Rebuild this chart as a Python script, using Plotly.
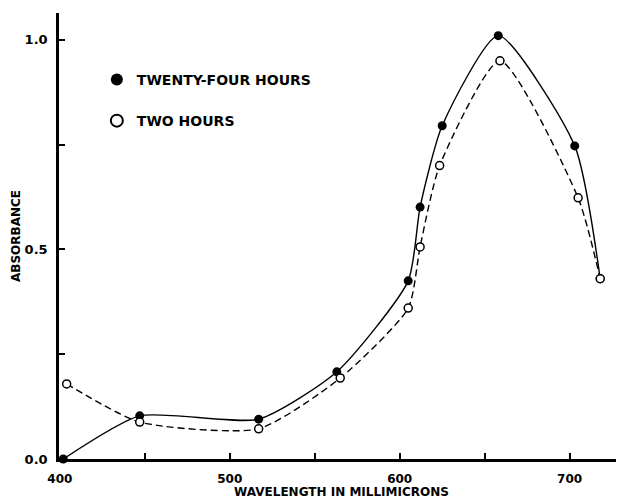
import plotly.graph_objects as go

# Data
wl_24h = [402, 447, 517, 563, 605, 612, 625, 658, 703, 718]
abs_24h = [0.0, 0.103, 0.095, 0.208, 0.425, 0.601, 0.795, 1.01, 0.747, 0.43]

wl_2h = [404, 447, 517, 565, 605, 612, 623.5, 659, 705, 718]
abs_2h = [0.179, 0.088, 0.072, 0.193, 0.36, 0.506, 0.70, 0.95, 0.623, 0.43]

x_tickvals = [400, 500, 600, 700]
x_ticktext = ["400", "500", "600", "700"]
y_tickvals = [0.0, 0.5, 1.0]
y_ticktext = ["0.0", "0.5", "1.0"]

FONT = "DejaVu Sans"

fig = go.Figure()

# Smooth curves
fig.add_trace(go.Scatter(
    x=wl_24h, y=abs_24h, mode="lines",
    line=dict(color="black", width=1.4, shape="spline", smoothing=0.6),
    showlegend=False, hoverinfo="skip"))
fig.add_trace(go.Scatter(
    x=wl_2h, y=abs_2h, mode="lines",
    line=dict(color="black", width=1.4, dash="7px,4px", shape="spline", smoothing=0.6),
    showlegend=False, hoverinfo="skip"))

# Markers (with legend)
fig.add_trace(go.Scatter(
    x=wl_24h, y=abs_24h, mode="markers", name="TWENTY-FOUR HOURS", legendgroup="a",
    marker=dict(symbol="circle", size=9, color="black"), cliponaxis=False))
fig.add_trace(go.Scatter(
    x=wl_2h, y=abs_2h, mode="markers", name="TWO HOURS", legendgroup="b",
    marker=dict(symbol="circle", size=8, color="white", line=dict(color="black", width=1.5)),
    cliponaxis=False))

fig.update_layout(
    width=616, height=491,
    margin=dict(l=51, r=0, t=5, b=40, autoexpand=False),
    paper_bgcolor="white", plot_bgcolor="white",
    font=dict(family=FONT, size=12, color="black", weight="bold"),
    legend=dict(x=0.067, y=0.886, xanchor="left", yanchor="top",
                font=dict(family=FONT, size=14, color="black", weight="bold"),
                bgcolor="rgba(0,0,0,0)", tracegroupgap=20, itemsizing="constant"),
    xaxis=dict(
        range=[399.5, 732], showgrid=False, zeroline=False, automargin=False,
        showline=True, linecolor="black", linewidth=2.5,
        ticks="inside", ticklen=6, tickwidth=1.5, tickcolor="black",
        tickvals=x_tickvals, ticktext=x_ticktext, ticklabelstandoff=7,
        tickfont=dict(family=FONT, size=12, weight="bold"),
        minor=dict(dtick=50, tick0=400, ticks="inside", ticklen=6, tickwidth=1.5, tickcolor="black"),
        title=dict(text="WAVELENGTH IN MILLIMICRONS", font=dict(family=FONT, size=12, weight="bold"), standoff=0),
    ),
    yaxis=dict(
        range=[0, 1.064], showgrid=False, zeroline=False, automargin=False,
        showline=True, linecolor="black", linewidth=2.5,
        ticks="inside", ticklen=6, tickwidth=1.5, tickcolor="black",
        tickvals=y_tickvals, ticktext=y_ticktext, ticklabelstandoff=6,
        tickfont=dict(family=FONT, size=13, weight="bold"),
        minor=dict(dtick=0.25, tick0=0, ticks="inside", ticklen=6, tickwidth=1.5, tickcolor="black"),
        title=dict(text="ABSORBANCE", font=dict(family=FONT, size=12, weight="bold"), standoff=2),
    ),
)

fig.write_html("out.html")
